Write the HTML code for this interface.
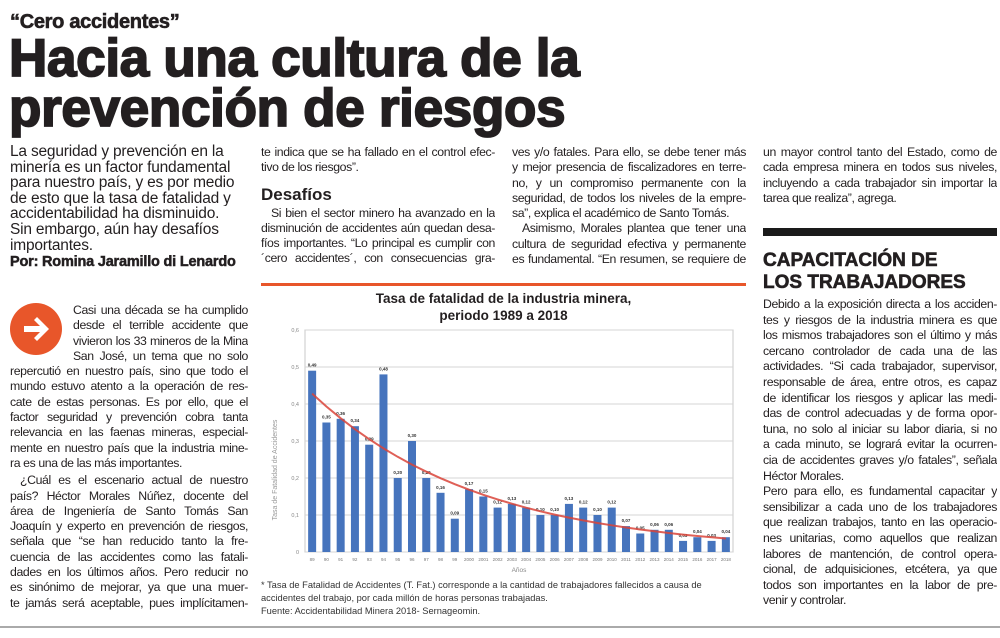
<!DOCTYPE html>
<html><head><meta charset="utf-8">
<style>
html,body{margin:0;padding:0;background:#fff;}
body{width:1000px;height:638px;position:relative;overflow:hidden;font-family:"Liberation Sans",sans-serif;color:#231f20;}
.abs{position:absolute;}
.col{position:absolute;font-size:12.3px;line-height:15.3px;letter-spacing:-0.4px;}
.col div{white-space:nowrap;overflow:hidden;}
.j{text-align:justify;text-align-last:justify;}
.ind{padding-left:10px;}
.hl{font-weight:bold;-webkit-text-stroke:1.8px #231f20;letter-spacing:-0.3px;white-space:nowrap;}
</style></head>
<body>
<div class="abs" style="left:10px;top:11px;font-size:20px;font-weight:bold;-webkit-text-stroke:0.6px #231f20;letter-spacing:-0.3px;">“Cero accidentes”</div>
<div class="abs hl" style="left:9px;top:34px;font-size:53px;line-height:50px;">Hacia una cultura de la<br>prevención de riesgos</div>

<div class="col" style="left:10px;top:144px;width:240px;font-size:15.5px;line-height:15.6px;letter-spacing:-0.2px;">
<div>La seguridad y prevención en la</div>
<div>minería es un factor fundamental</div>
<div>para nuestro país, y es por medio</div>
<div>de esto que la tasa de fatalidad y</div>
<div>accidentabilidad ha disminuido.</div>
<div>Sin embargo, aún hay desafíos</div>
<div>importantes.</div>
<div style="font-size:14.5px;font-weight:bold;-webkit-text-stroke:0.5px #231f20;margin-top:2px;">Por: Romina Jaramillo di Lenardo</div>
</div>

<div class="abs" style="left:10px;top:303px;width:52px;height:52px;border-radius:50%;background:#e8562a;">
<svg width="52" height="52" viewBox="0 0 52 52"><path d="M14 23h16l-6-6 3-3 12 12-12 12-3-3 6-6H14z" fill="#fff"/></svg></div>

<div class="col" style="left:10px;top:303px;width:238px;">
<div class="j" style="margin-left:63px;">Casi una década se ha cumplido</div>
<div class="j" style="margin-left:63px;">desde el terrible accidente que</div>
<div class="j" style="margin-left:63px;">vivieron los 33 mineros de la Mina</div>
<div class="j" style="margin-left:63px;">San José, un tema que no solo</div>
<div class="j">repercutió en nuestro país, sino que todo el</div>
<div class="j">mundo estuvo atento a la operación de res-</div>
<div class="j">cate de estas personas. Es por ello, que el</div>
<div class="j">factor seguridad y prevención cobra tanta</div>
<div class="j">relevancia en las faenas mineras, especial-</div>
<div class="j">mente en nuestro país que la industria mine-</div>
<div>ra es una de las más importantes.</div>
<div class="j ind" style="margin-top:2px;">¿Cuál es el escenario actual de nuestro</div>
<div class="j">país? Héctor Morales Núñez, docente del</div>
<div class="j">área de Ingeniería de Santo Tomás San</div>
<div class="j">Joaquín y experto en prevención de riesgos,</div>
<div class="j">señala que “se han reducido tanto la fre-</div>
<div class="j">cuencia de las accidentes como las fatali-</div>
<div class="j">dades en los últimos años. Pero reducir no</div>
<div class="j">es sinónimo de mejorar, ya que una muer-</div>
<div class="j">te jamás será aceptable, pues implícitamen-</div>
</div>

<div class="col" style="left:261px;top:145px;width:234px;">
<div class="j">te indica que se ha fallado en el control efec-</div>
<div>tivo de los riesgos”.</div>
<div style="font-size:17px;font-weight:bold;line-height:22px;margin-top:8px;letter-spacing:0;">Desafíos</div>
<div class="j ind">Si bien el sector minero ha avanzado en la</div>
<div class="j">disminución de accidentes aún quedan desa-</div>
<div class="j">fíos importantes. “Lo principal es cumplir con</div>
<div class="j">´cero accidentes´, con consecuencias gra-</div>
</div>

<div class="col" style="left:512px;top:145px;width:234px;">
<div class="j">ves y/o fatales. Para ello, se debe tener más</div>
<div class="j">y mejor presencia de fiscalizadores en terre-</div>
<div class="j">no, y un compromiso permanente con la</div>
<div class="j">seguridad, de todos los niveles de la empre-</div>
<div>sa”, explica el académico de Santo Tomás.</div>
<div class="j ind">Asimismo, Morales plantea que tener una</div>
<div class="j">cultura de seguridad efectiva y permanente</div>
<div class="j">es fundamental. “En resumen, se requiere de</div>
</div>

<div class="col" style="left:763px;top:145px;width:234px;">
<div class="j">un mayor control tanto del Estado, como de</div>
<div class="j">cada empresa minera en todos sus niveles,</div>
<div class="j">incluyendo a cada trabajador sin importar la</div>
<div>tarea que realiza”, agrega.</div>
</div>
<div class="abs" style="left:763px;top:228px;width:234px;height:8px;background:#1a1a1a;"></div>
<div class="abs" style="left:763px;top:250px;font-size:19px;line-height:22px;font-weight:bold;-webkit-text-stroke:0.6px #231f20;white-space:nowrap;">CAPACITACIÓN DE<br>LOS TRABAJADORES</div>
<div class="col" style="left:763px;top:297px;width:234px;line-height:15.6px;">
<div class="j">Debido a la exposición directa a los acciden-</div>
<div class="j">tes y riesgos de la industria minera es que</div>
<div class="j">los mismos trabajadores son el último y más</div>
<div class="j">cercano controlador de cada una de las</div>
<div class="j">actividades. “Si cada trabajador, supervisor,</div>
<div class="j">responsable de área, entre otros, es capaz</div>
<div class="j">de identificar los riesgos y aplicar las medi-</div>
<div class="j">das de control adecuadas y de forma opor-</div>
<div class="j">tuna, no solo al iniciar su labor diaria, si no</div>
<div class="j">a cada minuto, se logrará evitar la ocurren-</div>
<div class="j">cia de accidentes graves y/o fatales”, señala</div>
<div>Héctor Morales.</div>
<div class="j">Pero para ello, es fundamental capacitar y</div>
<div class="j">sensibilizar a cada uno de los trabajadores</div>
<div class="j">que realizan trabajos, tanto en las operacio-</div>
<div class="j">nes unitarias, como aquellos que realizan</div>
<div class="j">labores de mantención, de control opera-</div>
<div class="j">cional, de adquisiciones, etcétera, ya que</div>
<div class="j">todos son importantes en la labor de pre-</div>
<div>venir y controlar.</div>
</div>

<div class="abs" style="left:261px;top:283px;width:485px;height:3px;background:#e8562a;"></div>
<div class="abs" style="left:261px;top:290px;width:485px;text-align:center;font-size:13.5px;line-height:17px;font-weight:bold;">Tasa de fatalidad de la industria minera,<br>periodo 1989 a 2018</div>

<svg class="abs" id="chart" style="left:255px;top:285px;" width="495" height="300" xmlns="http://www.w3.org/2000/svg"></svg>

<div class="abs" style="left:261px;top:579px;font-size:9.3px;line-height:12.8px;color:#333;white-space:nowrap;">* Tasa de Fatalidad de Accidentes (T. Fat.) corresponde a la cantidad de trabajadores fallecidos a causa de<br>accidentes del trabajo, por cada millón de horas personas trabajadas.<br>Fuente: Accidentabilidad Minera 2018- Sernageomin.</div>
<div class="abs" style="left:0;top:626px;width:1000px;height:2px;background:#aaa;"></div>

<script>
const years = ["89","90","91","92","93","94","95","96","97","98","99","2000","2001","2002","2003","2004","2005","2006","2007","2008","2009","2010","2011","2012","2013","2014","2015","2016","2017","2018"];
const rates = [0.49,0.35,0.36,0.34,0.29,0.48,0.20,0.30,0.20,0.16,0.09,0.17,0.15,0.12,0.13,0.12,0.10,0.10,0.13,0.12,0.10,0.12,0.07,0.05,0.06,0.06,0.03,0.04,0.03,0.04];
const yTicks = [0,0.1,0.2,0.3,0.4,0.5,0.6];
const yTickLabels = ["0","0,1","0,2","0,3","0,4","0,5","0,6"];

const NS="http://www.w3.org/2000/svg";
const svg=document.getElementById('chart');
const X0=50,X1=478,Y0=267,Y1=45,VMAX=0.6;
const band=(X1-X0)/years.length;
const xc=i=>X0+band*(i+0.5);
const ys=v=>Y0-(v/VMAX)*(Y0-Y1);
function mk(tag,attrs,txt){const e=document.createElementNS(NS,tag);for(const k in attrs)e.setAttribute(k,attrs[k]);if(txt!==undefined)e.textContent=txt;svg.appendChild(e);return e;}

let e=mk('rect',{x:X0,y:Y1,width:X1-X0,height:Y0-Y1,fill:'none',stroke:'#c8c8c8','stroke-width':1});


yTicks.forEach((t,i)=>{
  const g=mk('line',{x1:X0,x2:X1,y1:ys(t),y2:ys(t),stroke:'#d4d4d4','stroke-width':1});
  
  
  const l=mk('text',{x:X0-6,y:ys(t)+2,'font-size':5.5,'text-anchor':'end',fill:'#888','font-family':'Liberation Sans'},yTickLabels[i]);
  
  
});
rates.forEach((v,i)=>{
  const r=mk('rect',{x:xc(i)-4,y:ys(v),width:8,height:Y0-ys(v),fill:'#4674bd'});
  
  
  const t=mk('text',{x:xc(i),y:ys(v)-4,'font-size':4.5,'font-weight':'bold','text-anchor':'middle',fill:'#333','font-family':'Liberation Sans'},v.toFixed(2).replace('.',','));
  
  
  const yl=mk('text',{x:xc(i),y:Y0+9,'font-size':4.5,'text-anchor':'middle',fill:'#777','font-family':'Liberation Sans'},years[i]);
  
  
});
(function(){
  const n=rates.length;let sx=0,sy=0,sxx=0,sxy=0;
  rates.forEach((v,i)=>{const ly=Math.log(v);sx+=i;sy+=ly;sxx+=i*i;sxy+=i*ly;});
  const b=(n*sxy-sx*sy)/(n*sxx-sx*sx),a=(sy-b*sx)/n;
  let d='';
  for(let i=0;i<n;i++){const v=Math.exp(a+b*i);d+=(i?'L':'M')+xc(i).toFixed(1)+' '+ys(v).toFixed(1);}
  const p=mk('path',{d:d,fill:'none',stroke:'#d9443a','stroke-width':2,opacity:0.85});
  
  
})();
e=mk('text',{x:264,y:Y0+20,'font-size':6.5,'text-anchor':'middle',fill:'#888','font-family':'Liberation Sans'},'Años');


e=mk('text',{x:22,y:185,'font-size':7,'text-anchor':'middle',fill:'#999','font-family':'Liberation Sans',transform:'rotate(-90 22 185)'},'Tasa de Fatalidad de Accidentes');


</script>
</body></html>
